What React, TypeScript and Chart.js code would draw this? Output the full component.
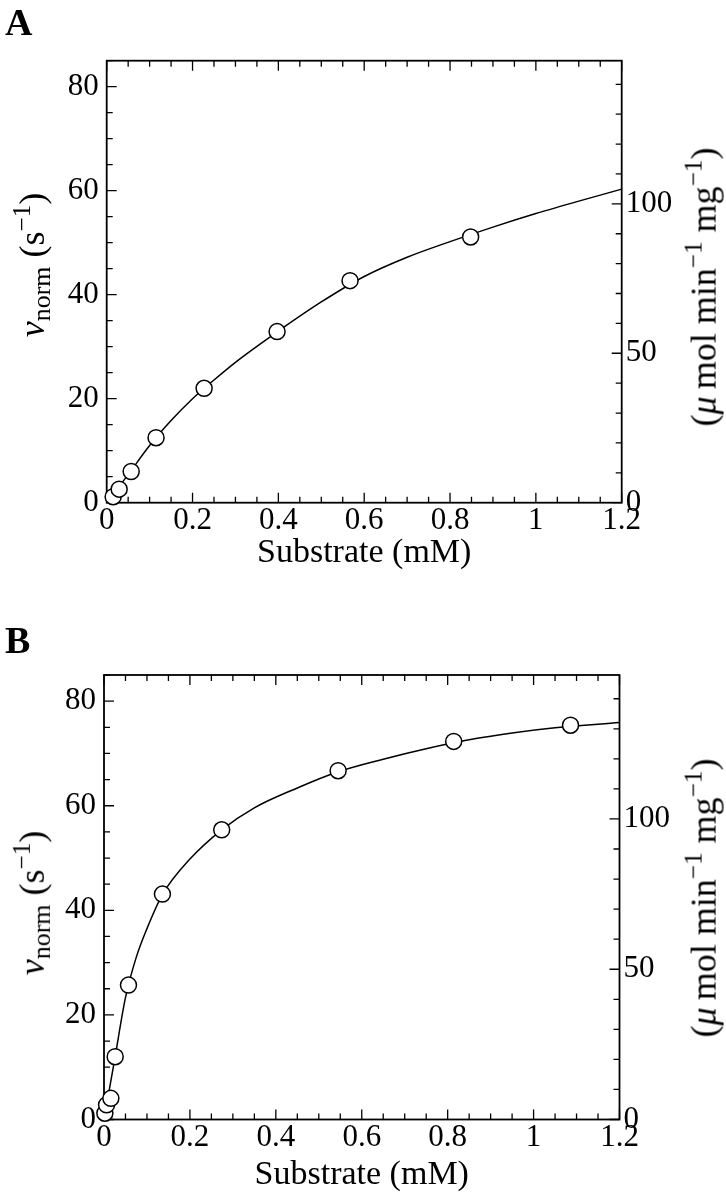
import React, { useEffect, useRef } from "react";
import { Chart, registerables } from "chart.js";

Chart.register(...registerables);

const SERIF = '"Liberation Serif", "Times New Roman", serif';

// ---- axes (shared) ----
const xMax = 1.2;
const leftMax = 85;
const rightPerLeft = 1.74; // µmol min-1 mg-1 per s-1
const xTickValues = [0, 0.2, 0.4, 0.6, 0.8, 1, 1.2];
const xTickLabels = ["0", "0.2", "0.4", "0.6", "0.8", "1", "1.2"];
const leftTickValues = [0, 20, 40, 60, 80];
const leftTickLabels = ["0", "20", "40", "60", "80"];
const rightTickValues = [0, 50, 100];
const rightTickLabels = ["0", "50", "100"];
const xMinorStep = 0.05;
const xMajorEvery = 4;
const leftMinorStep = 5;
const leftMajorEvery = 4;
const rightMinorStep = 10;
const rightMajorEvery = 5;

// ---- panel A ----
const aSubstrate = [0.015, 0.029, 0.057, 0.115, 0.227, 0.397, 0.567, 0.848];
const aRate = [1.15, 2.6, 6.0, 12.5, 22.0, 32.9, 42.7, 51.1];
const aFitSubstrate = [0, 0.05, 0.1, 0.15, 0.2, 0.25, 0.3, 0.4, 0.5, 0.6, 0.7, 0.8, 0.9, 1.0, 1.1, 1.2];
const aFitRate = [0, 5.4, 11.0, 15.8, 20.0, 23.6, 27.0, 33.0, 38.6, 43.5, 47.2, 50.2, 53.0, 55.6, 58.0, 60.3];

// ---- panel B ----
const bSubstrate = [0.002, 0.006, 0.016, 0.026, 0.057, 0.136, 0.274, 0.545, 0.814, 1.086];
const bRate = [1.2, 2.8, 4.05, 12.0, 25.7, 43.1, 55.4, 66.7, 72.3, 75.4];
const bFitSubstrate = [0, 0.01, 0.025, 0.05, 0.075, 0.1, 0.136, 0.2, 0.274, 0.35, 0.45, 0.545, 0.65, 0.75, 0.85, 0.95, 1.05, 1.2];
const bFitRate = [0, 4.6, 11.6, 23.3, 31.0, 36.5, 43.0, 49.8, 55.4, 59.6, 63.4, 66.5, 68.9, 70.9, 72.6, 73.9, 74.9, 75.9];

const inwardTicks = {
  id: "inwardTicks",
  beforeDatasetsDraw(chart: any) {
    const { ctx, chartArea } = chart;
    const { left, right, top, bottom } = chartArea;
    const sx = chart.scales.x;
    const sy = chart.scales.y;
    const sy2 = chart.scales.y2;
    ctx.save();
    ctx.strokeStyle = "#000";
    ctx.lineWidth = 1.3;
    ctx.beginPath();
    const nx = Math.round((sx.max - sx.min) / xMinorStep);
    for (let i = 0; i <= nx; i++) {
      const px = sx.getPixelForValue(sx.min + i * xMinorStep);
      const len = i % xMajorEvery === 0 ? 10 : 6;
      ctx.moveTo(px, bottom);
      ctx.lineTo(px, bottom - len);
      ctx.moveTo(px, top);
      ctx.lineTo(px, top + len);
    }
    for (let i = 0; i * leftMinorStep <= sy.max + 1e-9; i++) {
      const py = sy.getPixelForValue(i * leftMinorStep);
      const len = i % leftMajorEvery === 0 ? 10 : 6;
      ctx.moveTo(left, py);
      ctx.lineTo(left + len, py);
    }
    for (let i = 0; i * rightMinorStep <= sy2.max + 1e-9; i++) {
      const py = sy2.getPixelForValue(i * rightMinorStep);
      const len = i % rightMajorEvery === 0 ? 10 : 6;
      ctx.moveTo(right, py);
      ctx.lineTo(right - len, py);
    }
    ctx.stroke();
    ctx.lineWidth = 1.8;
    ctx.strokeRect(left, top, right - left, bottom - top);
    ctx.restore();
  },
};

type Geom = {
  top: number;
  leftW: number;
  rightW: number;
  xH: number;
  titlePad: number;
};

function makeConfig(px: number[], py: number[], fx: number[], fy: number[], g: Geom): any {
  const tickFont = { family: SERIF, size: 31 };
  const noGrid = { display: false, drawTicks: false, tickLength: 0 };
  return {
    type: "scatter",
    data: {
      datasets: [
        {
          label: "measured",
          data: px.map((x, i) => ({ x, y: py[i] })),
          order: 0,
          showLine: false,
          pointRadius: 8,
          pointHoverRadius: 8,
          pointBorderWidth: 1.5,
          pointBackgroundColor: "#fff",
          pointBorderColor: "#000",
          clip: false,
        },
        {
          label: "fit",
          data: fx.map((x, i) => ({ x, y: fy[i] })),
          order: 1,
          showLine: true,
          fill: false,
          pointRadius: 0,
          pointHoverRadius: 0,
          borderColor: "#000",
          borderWidth: 1.5,
          cubicInterpolationMode: "monotone",
        },
      ],
    },
    options: {
      responsive: false,
      animation: false,
      devicePixelRatio: 1,
      events: [],
      layout: { padding: { top: g.top, left: 0, right: 0, bottom: 0 } },
      plugins: { legend: { display: false }, tooltip: { enabled: false } },
      scales: {
        x: {
          type: "linear",
          position: "bottom",
          min: 0,
          max: xMax,
          afterBuildTicks: (s: any) => {
            s.ticks = xTickValues.map((v) => ({ value: v }));
          },
          afterFit: (s: any) => {
            s.height = g.xH;
          },
          ticks: {
            callback: (_v: any, i: number) => xTickLabels[i],
            font: tickFont,
            color: "#000",
            padding: 0,
            maxRotation: 0,
            autoSkip: false,
          },
          grid: noGrid,
          border: { display: false },
          title: {
            display: true,
            text: "Substrate (mM)",
            color: "#000",
            font: { family: SERIF, size: 34 },
            padding: { top: 0, bottom: g.titlePad },
          },
        },
        y: {
          type: "linear",
          position: "left",
          min: 0,
          max: leftMax,
          afterBuildTicks: (s: any) => {
            s.ticks = leftTickValues.map((v) => ({ value: v }));
          },
          afterFit: (s: any) => {
            s.width = g.leftW;
          },
          ticks: {
            callback: (_v: any, i: number) => leftTickLabels[i],
            font: tickFont,
            color: "#000",
            padding: 8,
            autoSkip: false,
          },
          grid: noGrid,
          border: { display: false },
        },
        y2: {
          type: "linear",
          position: "right",
          min: 0,
          max: leftMax * rightPerLeft,
          afterBuildTicks: (s: any) => {
            s.ticks = rightTickValues.map((v) => ({ value: v }));
          },
          afterFit: (s: any) => {
            s.width = g.rightW;
          },
          ticks: {
            callback: (_v: any, i: number) => rightTickLabels[i],
            font: tickFont,
            color: "#000",
            padding: 4,
            autoSkip: false,
          },
          grid: noGrid,
          border: { display: false },
        },
      },
    },
    plugins: [inwardTicks],
  };
}

type PanelProps = {
  offsetTop: number;
  letter: string;
  letterTop: number;
  px: number[];
  py: number[];
  fx: number[];
  fy: number[];
  geom: Geom;
  leftTitleY: number;
  rightTitleY: number;
};

function Panel(p: PanelProps) {
  const ref = useRef<HTMLCanvasElement | null>(null);
  useEffect(() => {
    if (!ref.current) return;
    const chart = new Chart(ref.current, makeConfig(p.px, p.py, p.fx, p.fy, p.geom));
    return () => chart.destroy();
  }, []);
  const rot: React.CSSProperties = {
    position: "absolute",
    whiteSpace: "nowrap",
    transform: "translate(-50%, -50%) rotate(-90deg)",
    fontFamily: SERIF,
    fontSize: 36,
    lineHeight: 1,
    color: "#000",
  };
  return (
    <div style={{ position: "absolute", left: 0, top: p.offsetTop, width: 726, height: 600 }}>
      <canvas ref={ref} width={726} height={600} style={{ position: "absolute", left: 0, top: 0, width: 726, height: 600 }} />
      <div
        style={{
          position: "absolute",
          left: 5,
          top: p.letterTop,
          fontFamily: SERIF,
          fontWeight: "bold",
          fontSize: 38,
          lineHeight: 1,
          color: "#000",
        }}
      >
        {p.letter}
      </div>
      <div style={{ ...rot, left: 32, top: p.leftTitleY }}>
        <i>ν</i>
        <sub style={{ fontSize: "0.72em", verticalAlign: "-0.25em" }}>norm</sub>
        {" (s"}
        <sup style={{ fontSize: "0.7em", verticalAlign: "0.55em" }}>−1</sup>
        {")"}
      </div>
      <div style={{ ...rot, left: 701, top: p.rightTitleY }}>
        {"("}
        <i>μ</i>
        {"\u2009mol min"}
        <sup style={{ fontSize: "0.7em", verticalAlign: "0.55em" }}>−1</sup>
        {" mg"}
        <sup style={{ fontSize: "0.7em", verticalAlign: "0.55em" }}>−1</sup>
        {")"}
      </div>
    </div>
  );
}

export default function App() {
  return (
    <div style={{ position: "absolute", left: 0, top: 0, width: 726, height: 1200, background: "#fff" }}>
      <Panel
        offsetTop={0}
        letter="A"
        letterTop={3}
        px={aSubstrate}
        py={aRate}
        fx={aFitSubstrate}
        fy={aFitRate}
        geom={{ top: 60.7, leftW: 106.7, rightW: 104.3, xH: 97.3, titlePad: 26.6 }}
        leftTitleY={265}
        rightTitleY={287}
      />
      <Panel
        offsetTop={600}
        letter="B"
        letterTop={21}
        px={bSubstrate}
        py={bRate}
        fx={bFitSubstrate}
        fy={bFitRate}
        geom={{ top: 75, leftW: 104, rightW: 106.5, xH: 80.5, titlePad: 5 }}
        leftTitleY={303}
        rightTitleY={298}
      />
    </div>
  );
}
